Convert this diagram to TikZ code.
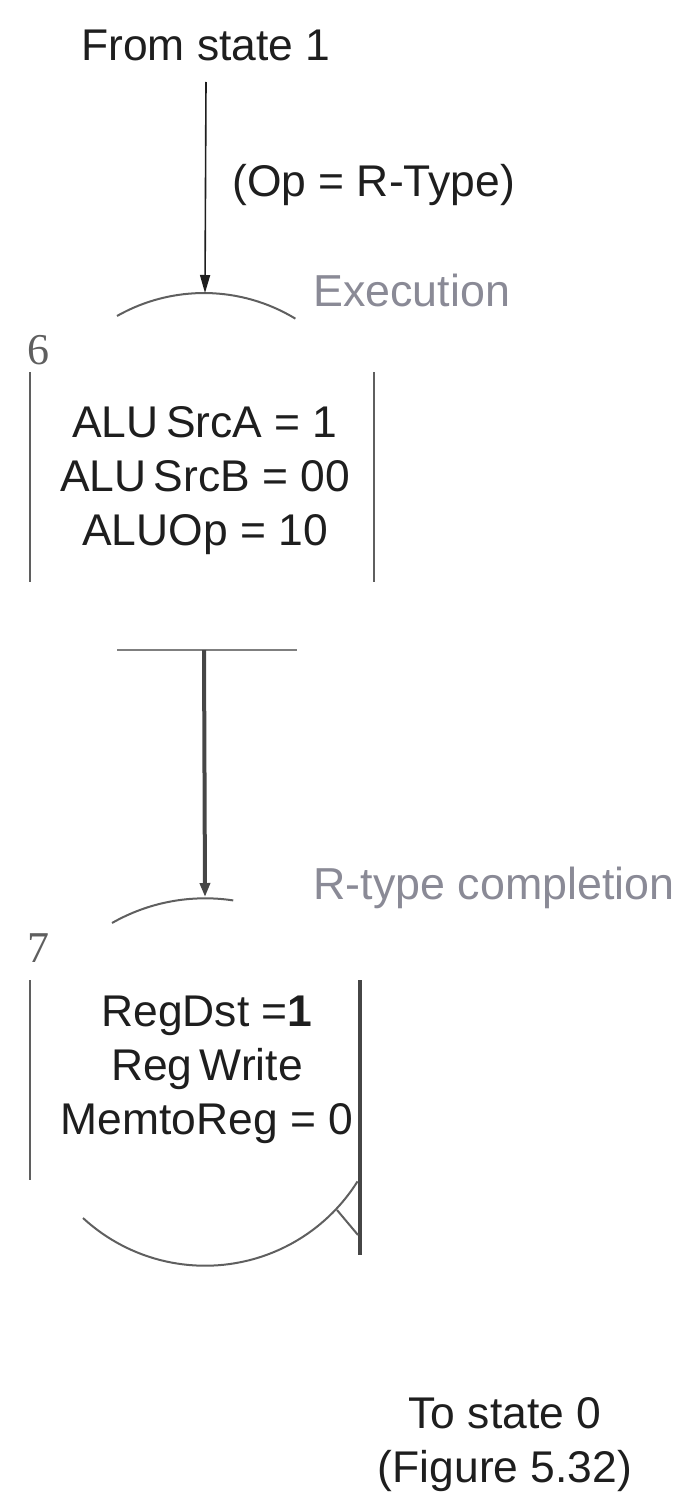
\documentclass[tikz,border=0pt]{standalone}
\usepackage{fontspec}
\setmainfont{Liberation Sans}
\newfontfamily\numfont{Liberation Serif}
\usetikzlibrary{arrows.meta}
\definecolor{InkBlack}{RGB}{30,30,30}
\definecolor{LabelGray}{RGB}{138,138,150}
\definecolor{EdgeGray}{RGB}{95,95,95}
\definecolor{RuleDark}{RGB}{70,70,70}

\begin{document}
\begin{tikzpicture}[x=0.5pt, y=-0.5pt,
    txt/.style={font=\fontsize{22.2}{27}\selectfont, text=InkBlack, align=center, inner sep=0pt},
    phase/.style={font=\fontsize{22.4}{27}\selectfont, text=LabelGray, anchor=west, inner sep=0pt},
    statenum/.style={font=\numfont\fontsize{22}{26}\selectfont, text=EdgeGray, inner sep=0pt},
    thinedge/.style={draw=EdgeGray, line width=1pt},
    thickedge/.style={draw=RuleDark, line width=2pt}]
  \useasboundingbox (0,0) rectangle (677,1493);

  % Entry from state 1
  \node[txt] (from1) at (206, 45) {From state 1};
  \node[txt, anchor=west] (opcond) at (232, 185) {(Op = R-Type)};
  \node[phase] (exec) at (313, 290) {Execution};

  % State 6 (execution)
  \coordinate (s6top) at (205, 293);
  \draw[thinedge] (117, 316) arc[start angle=240.4, end angle=301.3, radius=176];
  \draw[draw=InkBlack, line width=0.8pt, -{Triangle[width=5pt, length=9pt]}] (from1.south |- 0, 82) -- (s6top);
  \node[statenum] (s6num) at (38, 350) {6};
  \draw[thinedge] (30, 372) -- (30, 582);
  \draw[thinedge] (374, 372) -- (374, 582);
  \node[txt] (s6ctrl) at (205, 481) {ALU\,SrcA = 1\\ALU\,SrcB = 00\\ALUOp = 10};
  \draw[draw=EdgeGray!80, line width=1pt] (117, 650) -- (297, 650);
  \coordinate (s6bot) at (204, 650);

  % State 7 (R-type completion)
  \coordinate (s7top) at (205, 897);
  \draw[thickedge, -{Triangle[width=5pt, length=7pt]}] (s6bot) -- (s7top);
  \draw[thinedge] (112, 923) arc[start angle=240.3, end angle=278.6, radius=188];
  \node[phase] (rcomp) at (313, 888) {R-type completion};
  \node[statenum] (s7num) at (38, 948) {7};
  \draw[thinedge] (30, 980) -- (30, 1180);
  \node[txt] (s7ctrl) at (207, 1070) {RegDst =\textbf{1}\\Reg\,Write\\MemtoReg = 0};
  \draw[thickedge] (360, 980) -- (360, 1255);
  \draw[thinedge] (83, 1218) arc[start angle=132.7, end angle=32.1, radius=180];
  \coordinate (s7tick) at (337, 1210);
  \draw[thinedge] (s7tick) -- (358, 1235);

  % Exit to state 0
  \node[txt] (to0) at (505, 1445) {To state 0\\(Figure 5.32)};
\end{tikzpicture}
\end{document}
